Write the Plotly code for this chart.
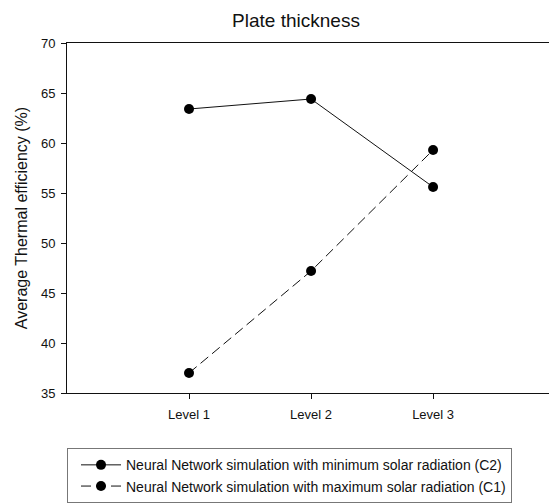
import plotly.graph_objects as go

# Factor levels of plate thickness
levels = ["Level 1", "Level 2", "Level 3"]

# Average thermal efficiency (%) predicted by the neural network
eff_min_radiation_c2 = [63.4, 64.4, 55.6]
eff_max_radiation_c1 = [37.0, 47.2, 59.3]

series_names = [
    "Neural Network simulation with minimum solar radiation (C2)",
    "Neural Network simulation with maximum solar radiation (C1)",
]

y_ticks = [35, 40, 45, 50, 55, 60, 65, 70]

FONT = "Liberation Sans, Arial, sans-serif"

fig = go.Figure()
fig.add_trace(go.Scatter(
    x=levels, y=eff_min_radiation_c2, name=series_names[0],
    mode="lines+markers",
    line=dict(color="#111111", width=1),
    marker=dict(color="black", size=10, symbol="circle"),
))
fig.add_trace(go.Scatter(
    x=levels, y=eff_max_radiation_c1, name=series_names[1],
    mode="lines+markers",
    line=dict(color="#111111", width=1, dash="10px,5px"),
    marker=dict(color="black", size=10, symbol="circle"),
))

fig.update_layout(
    width=549, height=504,
    margin=dict(l=67, r=0, t=43, b=111),
    paper_bgcolor="white", plot_bgcolor="white",
    font=dict(family=FONT, size=13, color="#111111"),
    title=dict(
        text="Plate thickness", font=dict(family=FONT, size=19, color="#111111"),
        x=296 / 549, xref="container", xanchor="center",
        y=1 - 20 / 504, yref="container", yanchor="middle",
    ),
    showlegend=True,
    legend=dict(
        x=0.0, xanchor="left", y=-0.315, yanchor="bottom",
        bordercolor="#777777", borderwidth=1, bgcolor="white",
        font=dict(family=FONT, size=14, color="#111111"),
        tracegroupgap=0, indentation=8, itemwidth=40,
    ),
)

fig.update_xaxes(
    type="category", range=[-1, 2.95],
    showgrid=False, zeroline=False,
    showline=True, linecolor="#111111", linewidth=1, mirror=True,
    ticks="outside", ticklen=5, tickcolor="#111111",
    ticklabelstandoff=4,
    tickfont=dict(family=FONT, size=13, color="#111111"),
)
fig.update_yaxes(
    range=[35, 70], tickvals=y_ticks,
    showgrid=False, zeroline=False,
    showline=True, linecolor="#111111", linewidth=1,
    ticks="outside", ticklen=5, tickcolor="#111111",
    ticklabelstandoff=3,
    tickfont=dict(family=FONT, size=13, color="#111111"),
    title=dict(text="Average Thermal efficiency (%)",
               font=dict(family=FONT, size=16, color="#111111"), standoff=9),
)

fig.write_html("out.html")
